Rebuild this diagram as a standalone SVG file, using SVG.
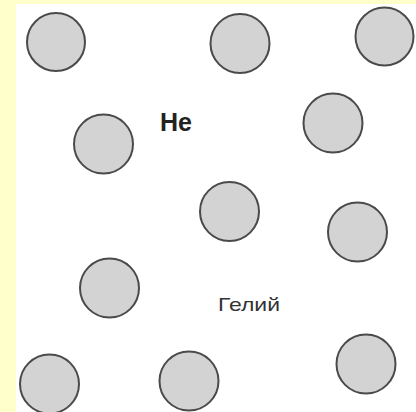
<svg xmlns="http://www.w3.org/2000/svg" width="416" height="412" viewBox="0 0 416 412">
<style>
.atom{fill:#d3d3d3;stroke:#4a4a4a;stroke-width:2}
.lbl{font-family:"Liberation Sans",Arial,sans-serif}
</style>
<rect width="416" height="412" fill="#ffffff"/>
<rect x="0" y="0" width="416" height="4" fill="#ffffcc"/>
<rect x="0" y="0" width="16" height="412" fill="#ffffcc"/>
<g id="atoms">
<g id="a1"><circle class="atom" cx="56" cy="42" r="29"/></g>
<g id="a2"><circle class="atom" cx="240" cy="43.5" r="29.5"/></g>
<g id="a3"><circle class="atom" cx="384.5" cy="36.5" r="29"/></g>
<g id="a4"><circle class="atom" cx="103.5" cy="144" r="29.5"/></g>
<g id="a5"><circle class="atom" cx="333" cy="123" r="29.5"/></g>
<g id="a6"><circle class="atom" cx="229.5" cy="211.5" r="29.5"/></g>
<g id="a7"><circle class="atom" cx="357.5" cy="232" r="29.5"/></g>
<g id="a8"><circle class="atom" cx="109.5" cy="288" r="29.5"/></g>
<g id="a9"><circle class="atom" cx="366" cy="364" r="29.5"/></g>
<g id="a10"><circle class="atom" cx="49.5" cy="384" r="29.5"/></g>
<g id="a11"><circle class="atom" cx="189" cy="381" r="29.5"/></g>
</g>
<g id="labels">
<text class="lbl" x="160" y="131" font-size="25" font-weight="bold" fill="#222">He</text>
<text class="lbl" x="218" y="311" font-size="19" fill="#333" textLength="62" lengthAdjust="spacingAndGlyphs">Гелий</text>
</g>
</svg>
